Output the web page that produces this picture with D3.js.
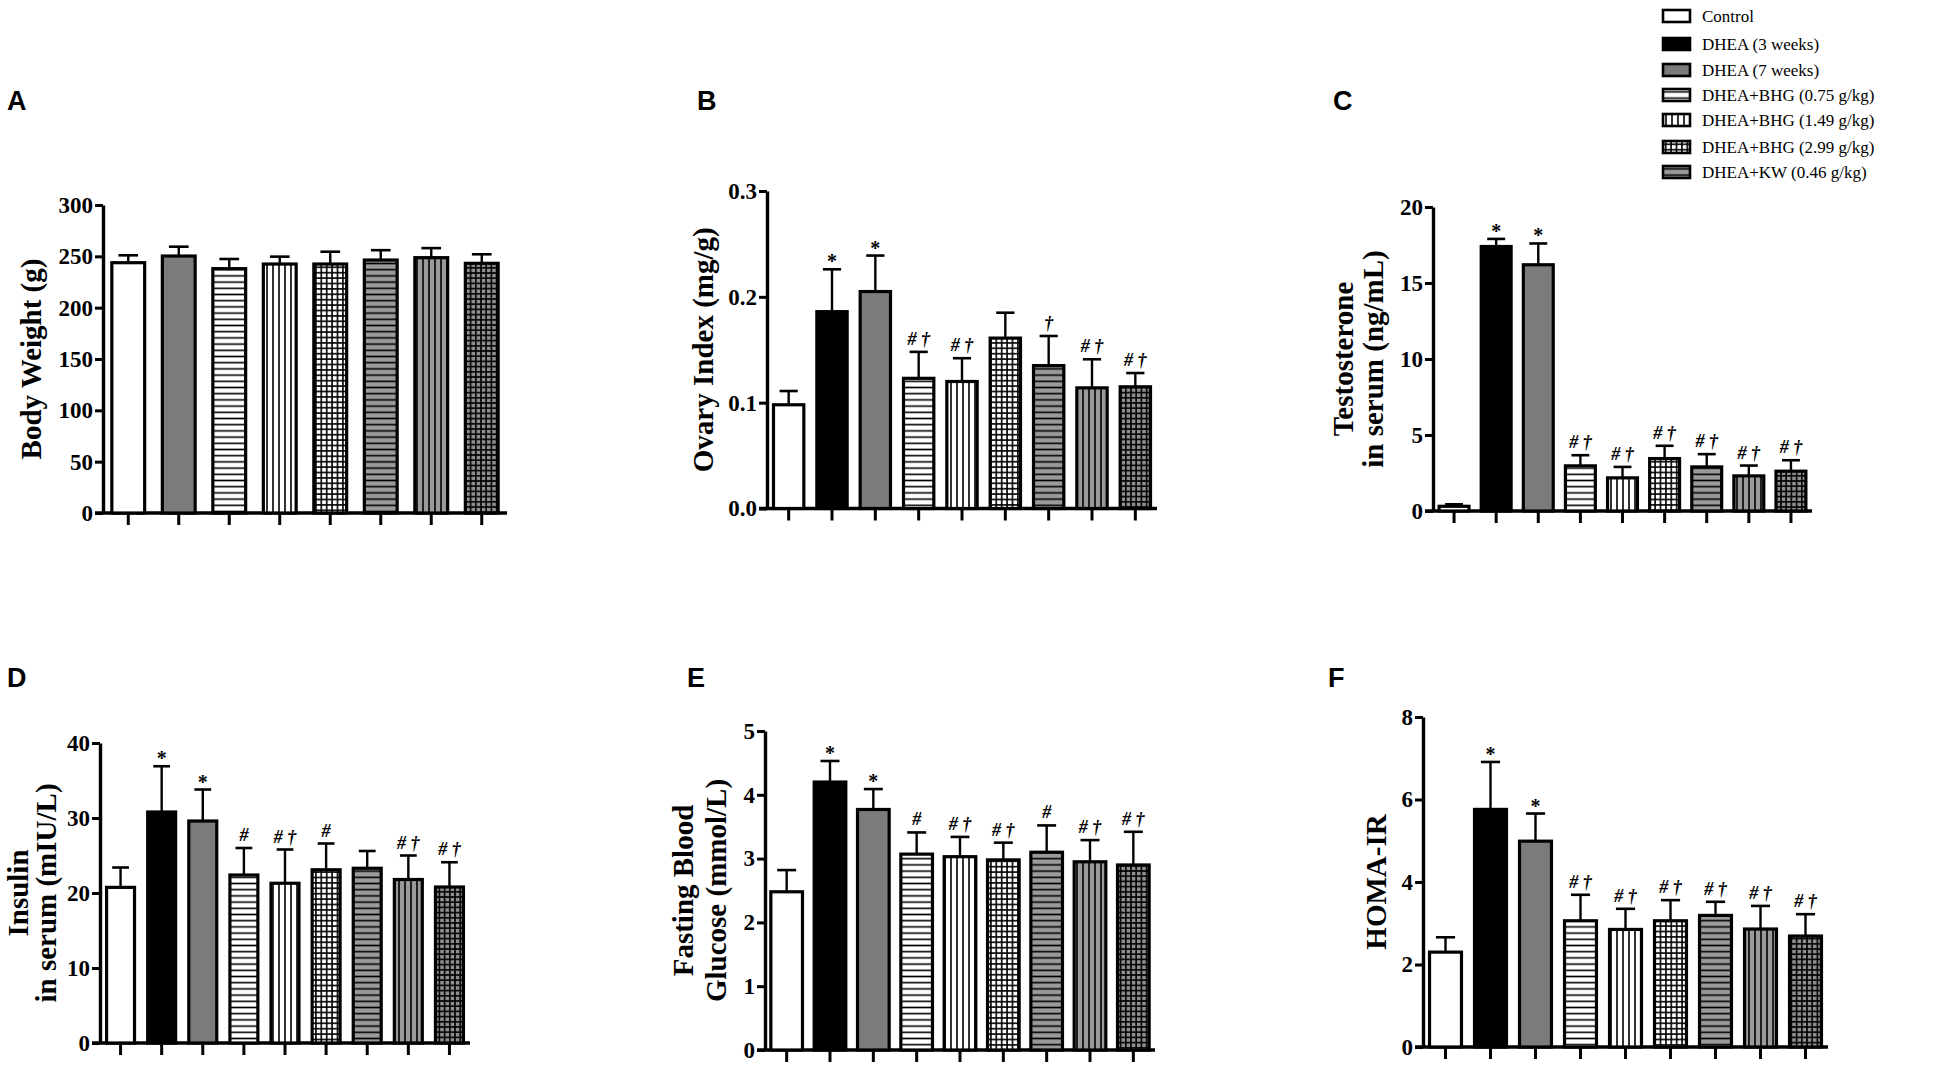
<!DOCTYPE html>
<html>
<head>
<meta charset="utf-8">
<script src="https://cdn.jsdelivr.net/npm/d3@7"></script>
<style>
body { margin: 0; background: #ffffff; }
svg { display: block; }
</style>
</head>
<body>
<svg id="chart" width="1950" height="1070"></svg>
<script>
// group keys, in the order the bars are drawn
var groupKeys = ["Control", "DHEA3w", "DHEA7w", "BHG075", "BHG149", "BHG299", "KW046", "G8", "G9"];
var legendNames = ["Control", "DHEA (3 weeks)", "DHEA (7 weeks)", "DHEA+BHG (0.75 g/kg)",
                   "DHEA+BHG (1.49 g/kg)", "DHEA+BHG (2.99 g/kg)", "DHEA+KW (0.46 g/kg)"];
var bodyWeightGroups = ["Control", "DHEA7w", "BHG075", "BHG149", "BHG299", "KW046", "G8", "G9"];

// A - body weight (g)
var bodyWeight = [243.8, 250.3, 238.0, 242.5, 242.5, 246.4, 248.7, 243.2];
var bodyWeightErr = [7.2, 9.1, 9.4, 7.2, 12.0, 9.6, 9.3, 8.8];
var bodyWeightTicks = [0, 50, 100, 150, 200, 250, 300];

// B - ovary index (mg/g)
var ovaryIndex = [0.098, 0.186, 0.205, 0.123, 0.120, 0.161, 0.135, 0.114, 0.115];
var ovaryIndexErr = [0.013, 0.040, 0.034, 0.025, 0.022, 0.024, 0.028, 0.027, 0.013];
var ovaryIndexMarks = ["", "*", "*", "# †", "# †", "", "†", "# †", "# †"];
var ovaryIndexTicks = [0, 0.1, 0.2, 0.3];

// C - testosterone in serum (ng/mL)
var testosterone = [0.31, 17.4, 16.2, 2.97, 2.18, 3.45, 2.90, 2.31, 2.62];
var testosteroneErr = [0.13, 0.5, 1.4, 0.70, 0.72, 0.84, 0.84, 0.68, 0.72];
var testosteroneMarks = ["", "*", "*", "# †", "# †", "# †", "# †", "# †", "# †"];
var testosteroneTicks = [0, 5, 10, 15, 20];

// D - insulin in serum (mIU/L)
var insulin = [20.75, 30.8, 29.6, 22.4, 21.3, 23.1, 23.3, 21.8, 20.8];
var insulinErr = [2.65, 6.1, 4.2, 3.6, 4.5, 3.5, 2.3, 3.2, 3.3];
var insulinMarks = ["", "*", "*", "#", "# †", "#", "", "# †", "# †"];
var insulinTicks = [0, 10, 20, 30, 40];

// E - fasting blood glucose (mmol/L)
var glucose = [2.48, 4.20, 3.77, 3.07, 3.03, 2.98, 3.10, 2.95, 2.90];
var glucoseErr = [0.34, 0.33, 0.32, 0.34, 0.31, 0.27, 0.42, 0.34, 0.52];
var glucoseMarks = ["", "*", "*", "#", "# †", "# †", "#", "# †", "# †"];
var glucoseTicks = [0, 1, 2, 3, 4, 5];

// F - HOMA-IR
var homaIR = [2.30, 5.76, 4.99, 3.06, 2.85, 3.06, 3.19, 2.86, 2.69];
var homaIRErr = [0.36, 1.15, 0.67, 0.63, 0.50, 0.50, 0.33, 0.56, 0.53];
var homaIRMarks = ["", "*", "*", "# †", "# †", "# †", "# †", "# †", "# †"];
var homaIRTicks = [0, 2, 4, 6, 8];

var SERIF = '"Liberation Serif", "Times New Roman", serif';
var SANS = '"Liberation Sans", Arial, sans-serif';

var svg = d3.select("#chart");
svg.append("rect").attr("width", 1950).attr("height", 1070).attr("fill", "#ffffff");
var defs = svg.append("defs");

function makePattern(id, bg, horiz, vert, step) {
    var p = defs.append("pattern")
        .attr("id", id)
        .attr("patternUnits", "userSpaceOnUse")
        .attr("width", step).attr("height", step);
    p.append("rect").attr("width", step).attr("height", step).attr("fill", bg);
    if (horiz) {
        p.append("line").attr("x1", 0).attr("x2", step).attr("y1", step / 2).attr("y2", step / 2)
            .attr("stroke", "#000").attr("stroke-width", 1.6);
    }
    if (vert) {
        p.append("line").attr("y1", 0).attr("y2", step).attr("x1", step / 2).attr("x2", step / 2)
            .attr("stroke", "#000").attr("stroke-width", 1.6);
    }
    return "url(#" + id + ")";
}

var fills = {
    Control: "#ffffff",
    DHEA3w: "#000000",
    DHEA7w: "#7b7b7b",
    BHG075: makePattern("pH", "#ffffff", true, false, 6.2),
    BHG149: makePattern("pV", "#ffffff", false, true, 6),
    BHG299: makePattern("pG", "#ffffff", true, true, 5.4),
    KW046: makePattern("pGH", "#9a9a9a", true, false, 6.2),
    G8: makePattern("pGV", "#9a9a9a", false, true, 6),
    G9: makePattern("pGG", "#8e8e8e", true, true, 5.2)
};

function Panel(opts) {
    this.opts = opts;
    this.x = d3.scaleBand()
        .domain(opts.groups)
        .range([opts.left, opts.right])
        .paddingInner(opts.pad)
        .paddingOuter(opts.pad / 2);
    this.y = d3.scaleLinear()
        .domain([0, opts.max])
        .range([opts.bottom, opts.top]);
    this.g = svg.append("g");
}

Panel.prototype.drawAxes = function() {
    var o = this.opts;
    var yAxis = d3.axisLeft(this.y)
        .tickValues(o.ticks)
        .tickFormat(o.format)
        .tickSize(8)
        .tickSizeOuter(0)
        .tickPadding(2);
    var ya = this.g.append("g")
        .attr("transform", "translate(" + o.left + ",0)")
        .call(yAxis);
    ya.select(".domain").attr("stroke-width", 3.4).attr("stroke", "#000");
    ya.selectAll(".tick line").attr("stroke-width", 3).attr("stroke", "#000");
    ya.selectAll(".tick text")
        .attr("fill", "#000")
        .style("font-family", SERIF)
        .style("font-weight", "bold")
        .style("font-size", "23px");

    var xAxis = d3.axisBottom(this.x)
        .tickFormat("")
        .tickSize(12)
        .tickSizeOuter(0);
    var xa = this.g.append("g")
        .attr("transform", "translate(0," + o.bottom + ")")
        .call(xAxis);
    xa.select(".domain").attr("stroke-width", 3.4).attr("stroke", "#000")
        .attr("d", "M" + (o.left - 8) + ",0H" + o.right);
    xa.selectAll(".tick line").attr("stroke-width", 3).attr("stroke", "#000");
};

Panel.prototype.drawBars = function() {
    var o = this.opts, x = this.x, y = this.y;
    var rows = o.groups.map(function(k, i) {
        return { key: k, v: o.values[i], e: o.errors[i], mark: o.marks ? o.marks[i] : "" };
    });
    var bw = x.bandwidth();
    var capW = bw * 0.6;

    // error bars first so bar outline sits on top
    var err = this.g.append("g").selectAll("g").data(rows).enter().append("g");
    err.append("line")
        .attr("x1", function(d) { return x(d.key) + bw / 2; })
        .attr("x2", function(d) { return x(d.key) + bw / 2; })
        .attr("y1", function(d) { return y(d.v); })
        .attr("y2", function(d) { return y(d.v + d.e); })
        .attr("stroke", "#000").attr("stroke-width", 2.4);
    err.append("line")
        .attr("x1", function(d) { return x(d.key) + bw / 2 - capW / 2; })
        .attr("x2", function(d) { return x(d.key) + bw / 2 + capW / 2; })
        .attr("y1", function(d) { return y(d.v + d.e); })
        .attr("y2", function(d) { return y(d.v + d.e); })
        .attr("stroke", "#000").attr("stroke-width", 2.6);

    this.g.append("g").selectAll("rect").data(rows).enter().append("rect")
        .attr("x", function(d) { return x(d.key); })
        .attr("y", function(d) { return y(d.v); })
        .attr("width", bw)
        .attr("height", function(d) { return y(0) - y(d.v); })
        .attr("fill", function(d) { return fills[d.key]; })
        .attr("stroke", "#000")
        .attr("stroke-width", 3.2);

    this.g.append("g").selectAll("text").data(rows.filter(function(d) { return d.mark; }))
        .enter().append("text")
        .attr("x", function(d) { return x(d.key) + bw / 2; })
        .attr("y", function(d) { return y(d.v + d.e) - (d.mark == "*" ? 1 : 7); })
        .attr("text-anchor", "middle")
        .style("font-family", SERIF)
        .style("font-weight", "bold")
        .style("font-style", function(d) { return d.mark == "*" ? "normal" : "italic"; })
        .style("font-size", function(d) { return d.mark == "*" ? "20px" : "18px"; })
        .text(function(d) { return d.mark; });
};

Panel.prototype.drawLabels = function() {
    var o = this.opts;
    var mid = (o.top + o.bottom) / 2;
    var g = this.g;
    o.label.forEach(function(line, i) {
        g.append("text")
            .attr("transform", "translate(" + o.labelX[i] + "," + mid + ") rotate(-90)")
            .attr("text-anchor", "middle")
            .style("font-family", SERIF)
            .style("font-weight", "bold")
            .style("font-size", "29px")
            .text(line);
    });
    g.append("text")
        .attr("x", o.letterX).attr("y", o.letterY)
        .style("font-family", SANS)
        .style("font-weight", "bold")
        .style("font-size", "27px")
        .text(o.letter);
};

Panel.prototype.draw = function() {
    this.drawAxes();
    this.drawBars();
    this.drawLabels();
};

var intFmt = d3.format("d");

new Panel({ letter: "A", letterX: 7, letterY: 110, groups: bodyWeightGroups,
    values: bodyWeight, errors: bodyWeightErr, marks: null,
    ticks: bodyWeightTicks, format: intFmt, max: 300,
    left: 103, right: 507, top: 205, bottom: 513, pad: 0.35,
    label: ["Body Weight (g)"], labelX: [41] }).draw();

new Panel({ letter: "B", letterX: 697, letterY: 110, groups: groupKeys,
    values: ovaryIndex, errors: ovaryIndexErr, marks: ovaryIndexMarks,
    ticks: ovaryIndexTicks, format: d3.format(".1f"), max: 0.3,
    left: 767, right: 1157, top: 191, bottom: 508.5, pad: 0.3,
    label: ["Ovary Index (mg/g)"], labelX: [713] }).draw();

new Panel({ letter: "C", letterX: 1333, letterY: 110, groups: groupKeys,
    values: testosterone, errors: testosteroneErr, marks: testosteroneMarks,
    ticks: testosteroneTicks, format: intFmt, max: 20,
    left: 1433, right: 1812, top: 207, bottom: 511, pad: 0.29,
    label: ["Testosterone", "in serum (ng/mL)"], labelX: [1353, 1383] }).draw();

new Panel({ letter: "D", letterX: 7, letterY: 687, groups: groupKeys,
    values: insulin, errors: insulinErr, marks: insulinMarks,
    ticks: insulinTicks, format: intFmt, max: 40,
    left: 100, right: 470, top: 743, bottom: 1043, pad: 0.32,
    label: ["Insulin", "in serum (mIU/L)"], labelX: [28, 56] }).draw();

new Panel({ letter: "E", letterX: 687, letterY: 687, groups: groupKeys,
    values: glucose, errors: glucoseErr, marks: glucoseMarks,
    ticks: glucoseTicks, format: intFmt, max: 5,
    left: 765, right: 1155, top: 731, bottom: 1050, pad: 0.27,
    label: ["Fasting Blood", "Glucose (mmol/L)"], labelX: [693, 726] }).draw();

new Panel({ letter: "F", letterX: 1328, letterY: 687, groups: groupKeys,
    values: homaIR, errors: homaIRErr, marks: homaIRMarks,
    ticks: homaIRTicks, format: intFmt, max: 8,
    left: 1423, right: 1828, top: 717, bottom: 1047, pad: 0.29,
    label: ["HOMA-IR"], labelX: [1386] }).draw();

// legend (top right)
var legend = svg.append("g").attr("transform", "translate(1663,0)");
var legendRows = [16, 44, 70, 95, 120, 147, 172];
legendNames.forEach(function(name, i) {
    var row = legend.append("g").attr("transform", "translate(0," + legendRows[i] + ")");
    row.append("rect")
        .attr("x", 0).attr("y", -6)
        .attr("width", 27).attr("height", 12)
        .attr("fill", fills[groupKeys[i]])
        .attr("stroke", "#000").attr("stroke-width", 2.6);
    row.append("text")
        .attr("x", 39).attr("y", 6)
        .style("font-family", SERIF)
        .style("font-size", "17px")
        .text(name);
});
</script>
</body>
</html>
